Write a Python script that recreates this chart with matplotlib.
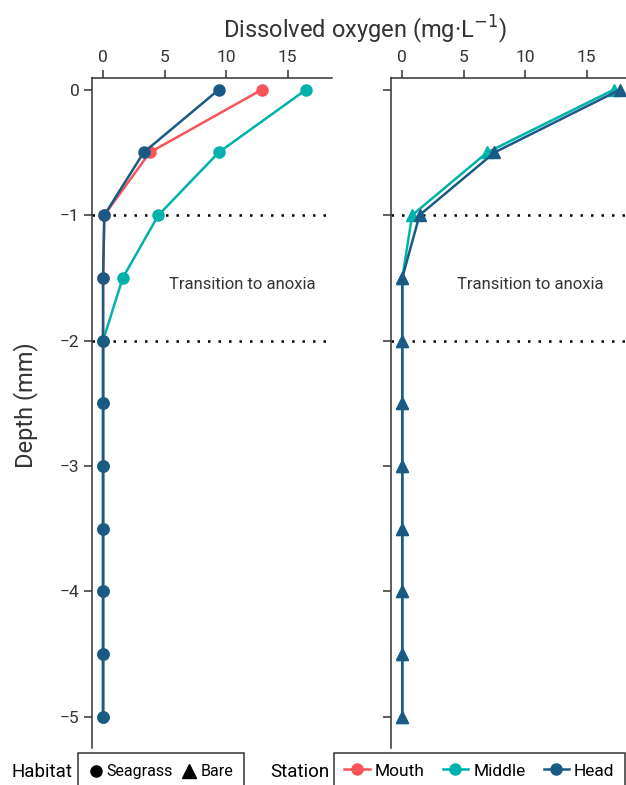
import matplotlib.pyplot as plt
from matplotlib.lines import Line2D

plt.rcParams['font.family'] = ['Roboto', 'DejaVu Sans']

depth = [0, -0.5, -1, -1.5, -2, -2.5, -3, -3.5, -4, -4.5, -5]

# seagrass (circles)
sg_mouth = [12.9, 3.8, 0.1, 0, 0, 0, 0, 0, 0, 0, 0]
sg_middle = [16.5, 9.4, 4.5, 1.6, 0, 0, 0, 0, 0, 0, 0]
sg_head = [9.4, 3.3, 0.1, 0, 0, 0, 0, 0, 0, 0, 0]

# bare (triangles)
bare_middle = [17.2, 6.9, 0.8, 0, 0, 0, 0, 0, 0, 0, 0]
bare_head = [17.7, 7.5, 1.4, 0, 0, 0, 0, 0, 0, 0, 0]

xticks = [0, 5, 10, 15]
yticks = [0, -1, -2, -3, -4, -5]
c_mouth = '#F8545A'
c_middle = '#00B2AB'
c_head = '#1B5A85'
gray = '#333333'

fig = plt.figure(figsize=(6.26, 7.85), dpi=100)
ax1 = fig.add_axes([0.147, 0.047, 0.383, 0.854])
ax2 = fig.add_axes([0.625, 0.047, 0.375, 0.854])

for ax in (ax1, ax2):
    ax.axhline(-1, color='black', ls=(0, (1, 3.2)), lw=1.8, zorder=1)
    ax.axhline(-2, color='black', ls=(0, (1, 3.2)), lw=1.8, zorder=1)
    ax.xaxis.tick_top()
    ax.set_xticks(xticks)
    ax.set_yticks(yticks)
    ax.set_yticklabels(['0' if v == 0 else '\u2212%d' % -v for v in yticks])
    ax.set_ylim(-5.25, 0.096)
    for s in ('right', 'bottom'):
        ax.spines[s].set_visible(False)
    for s in ('top', 'left'):
        ax.spines[s].set_color(gray)
        ax.spines[s].set_linewidth(1.1)
    ax.tick_params(colors=gray, labelcolor=gray, length=6, width=1.1, labelsize=12.5, pad=3)

ax1.set_xlim(-0.9, 18.6)
ax2.set_xlim(-0.9, 18.2)
ax2.set_yticklabels([])

ax1.plot(sg_mouth, depth, '-o', color=c_mouth, lw=1.8, ms=8, zorder=3)
ax1.plot(sg_middle, depth, '-o', color=c_middle, lw=1.8, ms=8, zorder=3)
ax1.plot(sg_head, depth, '-o', color=c_head, lw=1.8, ms=8, zorder=3)

ax2.plot(bare_middle, depth, '-^', color=c_middle, lw=1.8, ms=9, zorder=3, clip_on=False)
ax2.plot(bare_head, depth, '-^', color=c_head, lw=1.8, ms=9, zorder=3, clip_on=False)

ax1.text(11.3, -1.55, 'Transition to anoxia', ha='center', va='center', fontsize=12, color=gray)
ax2.text(10.4, -1.55, 'Transition to anoxia', ha='center', va='center', fontsize=12, color=gray)

fig.text(0.583, 0.962, 'Dissolved oxygen (mg\u00b7L$^{\u22121}$)', ha='center', va='center',
         fontsize=17, color=gray)
fig.text(0.04, 0.484, 'Depth (mm)', ha='center', va='center', rotation=90, fontsize=17, color=gray)

fig.text(0.018, 0.017, 'Habitat', ha='left', va='center', fontsize=13.5, color='black')
fig.text(0.432, 0.017, 'Station', ha='left', va='center', fontsize=13.5, color='black')

top = 1 - 753 / 785

hab = [Line2D([], [], ls='none', marker='o', color='black', ms=8),
       Line2D([], [], ls='none', marker='^', color='black', ms=10)]
leg1 = fig.legend(hab, ['Seagrass', 'Bare'], loc='upper left',
                  bbox_to_anchor=(0.1246, top),
                  ncol=2, frameon=True, fancybox=False, edgecolor='black', fontsize=11.5,
                  handlelength=0.8, handletextpad=0.3, columnspacing=0.6, borderpad=0.7,
                  borderaxespad=0)
leg1.get_frame().set_linewidth(1.1)

stn = [Line2D([], [], marker='o', color=c, lw=1.8, ms=8) for c in (c_mouth, c_middle, c_head)]
leg2 = fig.legend(stn, ['Mouth', 'Middle', 'Head'], loc='upper left',
                  bbox_to_anchor=(0.5335, top - 0.05, 0.4649, 0.05), mode='expand',
                  ncol=3, frameon=True, fancybox=False, edgecolor='black', fontsize=12.5,
                  handlelength=1.45, handletextpad=0.3, columnspacing=1.0, borderpad=0.6,
                  borderaxespad=0)
leg2.get_frame().set_linewidth(1.1)

fig.savefig('out.png', dpi=100)
